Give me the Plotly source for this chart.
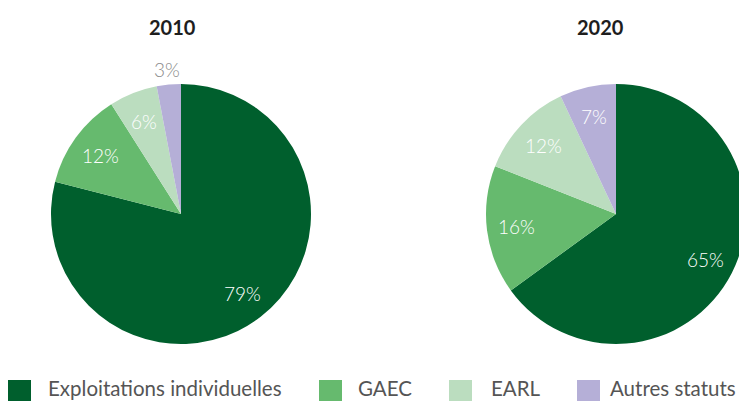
import math
import plotly.graph_objects as go

categories = ["Exploitations individuelles", "GAEC", "EARL", "Autres statuts"]
years = ["2010", "2020"]
values_2010 = [79, 12, 6, 3]
values_2020 = [65, 16, 12, 7]
colors = ["#005F2D", "#66BA6E", "#BBDDBF", "#B5AFD7"]

W, H = 760, 401
R = 130
centers = [(181, 214), (616, 214)]
title_pos = [(172, 27), (600, 27)]
legend_sq_x = [8, 319, 449, 577]
legend_tx_x = [46, 356, 489, 608]

fig = go.Figure()
annotations = []
for vals, (cx, cy), yr, (tx, ty) in zip([values_2010, values_2020], centers, years, title_pos):
    fig.add_trace(go.Pie(
        labels=categories, values=vals, sort=False, direction="clockwise", rotation=0,
        marker=dict(colors=colors, line=dict(width=0)),
        textinfo="none", showlegend=False, hoverinfo="label+percent",
        domain=dict(x=[(cx - R) / W, (cx + R) / W], y=[1 - (cy + R) / H, 1 - (cy - R) / H]),
    ))
    total = sum(vals)
    cum = 0
    for v in vals:
        mid = (cum + v / 2) / total
        cum += v
        th = 2 * math.pi * mid
        outside = v < 5
        rl = 145 if outside else 100
        px = cx + rl * math.sin(th)
        py = cy - rl * math.cos(th)
        annotations.append(dict(
            x=px / W, y=1 - py / H, xref="paper", yref="paper", showarrow=False,
            xanchor="center", yanchor="middle",
            text=f"{v}%", font=dict(family="Lato", size=19, weight=300,
                                    color="#8a8a8a" if outside else "white"),
        ))
    annotations.append(dict(
        x=tx / W, y=1 - ty / H, xref="paper", yref="paper", showarrow=False,
        xanchor="center", yanchor="middle",
        text=f"<b>{yr}</b>", font=dict(family="Lato", size=20, color="#1e1e1e", weight=900),
    ))

shapes = []
for cat, col, sx, txx in zip(categories, colors, legend_sq_x, legend_tx_x):
    shapes.append(dict(type="rect", xref="paper", yref="paper",
                       x0=sx / W, x1=(sx + 23) / W, y0=1 - 401 / H, y1=1 - 380 / H,
                       fillcolor=col, line=dict(width=0)))
    annotations.append(dict(
        x=txx / W, y=1 - 388 / H, xref="paper", yref="paper", showarrow=False,
        xanchor="left", yanchor="middle", text=cat,
        font=dict(family="Lato", size=20.5, color="#555555"),
    ))

fig.update_layout(
    width=W, height=H, autosize=False,
    margin=dict(l=0, r=0, t=0, b=0),
    paper_bgcolor="white", plot_bgcolor="white",
    annotations=annotations, shapes=shapes,
)

fig.write_html("out.html", config={"displayModeBar": False},
               post_script="document.body.style.margin='0';document.body.style.overflow='hidden';document.documentElement.style.overflow='hidden';")
